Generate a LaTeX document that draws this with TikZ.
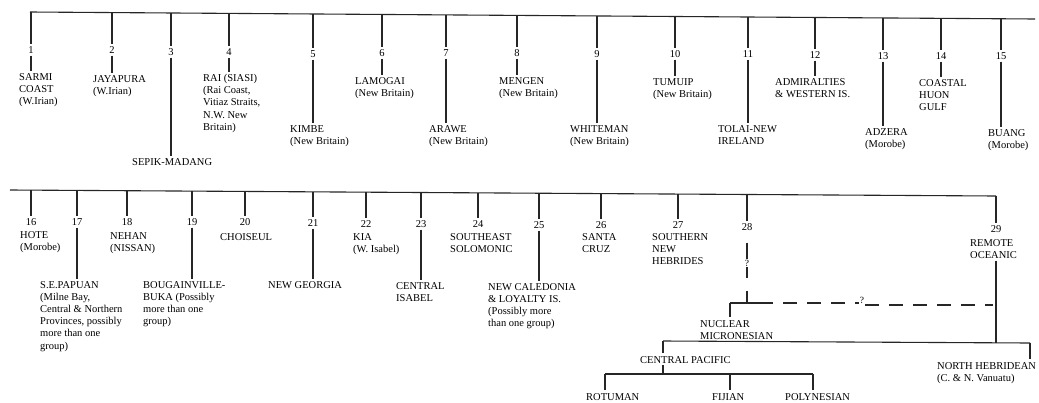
\documentclass[tikz,border=0pt]{standalone}
\usepackage{fontspec}
\setmainfont{Liberation Serif}
\newcommand\lfs{\fontsize{10.5}{12.2}\selectfont}
\tikzset{
  ln/.style={line width=1.1pt, draw=black!85},
  num/.style={inner sep=2pt, font=\lfs},
  lab/.style={anchor=north west, inner sep=0pt, align=left, font=\lfs},
  qm/.style={inner sep=1pt, font=\fontsize{9.5}{10}\selectfont},
  dsh/.style={ln, dash pattern=on 14pt off 10pt},
}
% #1 id, #2 x, #3 y on bar, #4 number y, #5 label x, #6 label y, #7 text
\newcommand\leaf[7]{%
  \coordinate (t#1) at (#2,#3);
  \node[num] (n#1) at (#2,#4) {#1};
  \node[lab] (l#1) at (#5,#6) {#7};
  \draw[ln] (t#1) -- (n#1.north);
  \draw[ln,shorten >=2.5pt] (n#1.south) -- (n#1.south |- l#1.north);
}
\newcommand\leafn[7]{%
  \coordinate (t#1) at (#2,#3);
  \node[num] (n#1) at (#2,#4) {#1};
  \node[lab] (l#1) at (#5,#6) {#7};
  \draw[ln] (t#1) -- (n#1.north);
}
\begin{document}
\begin{tikzpicture}[x=1pt,y=-1pt]
\useasboundingbox (0,0) rectangle (1039,402);

% ---------- upper row ----------
\coordinate (barAL) at (30,12);
\coordinate (barAR) at (1035,19);
\draw[ln] (barAL) -- (barAR);

\leaf{1}{31}{12.0}{50}{19}{73}{SARMI\\COAST\\(W.Irian)}
\leaf{2}{112}{12.6}{50}{93}{75}{JAYAPURA\\(W.Irian)}
\leaf{3}{171}{13.0}{52}{132}{158}{SEPIK-MADANG}
\leaf{4}{229}{13.4}{52}{203}{74}{RAI (SIASI)\\(Rai Coast,\\Vitiaz Straits,\\N.W. New\\Britain)}
\leaf{5}{313}{14.0}{54}{290}{125}{KIMBE\\(New Britain)}
\leaf{6}{382}{14.5}{53}{355}{77}{LAMOGAI\\(New Britain)}
\leaf{7}{446}{14.9}{53}{429}{125}{ARAWE\\(New Britain)}
\leaf{8}{517}{15.4}{53}{499}{77}{MENGEN\\(New Britain)}
\leaf{9}{597}{16.0}{54}{570}{125}{WHITEMAN\\(New Britain)}
\leaf{10}{675}{16.5}{54}{653}{78}{TUMUIP\\(New Britain)}
\leaf{11}{748}{17.0}{54}{718}{125}{TOLAI-NEW\\IRELAND}
\leaf{12}{815}{17.5}{55}{775}{78}{ADMIRALTIES\\\& WESTERN IS.}
\leaf{13}{883}{17.9}{56}{865}{128}{ADZERA\\(Morobe)}
\leaf{14}{941}{18.3}{56}{919}{79}{COASTAL\\HUON\\GULF}
\leaf{15}{1001}{18.8}{56}{988}{129}{BUANG\\(Morobe)}

% ---------- lower row ----------
\coordinate (barBL) at (10,190);
\coordinate (barBR) at (996,196);
\draw[ln] (barBL) -- (barBR);

\leafn{16}{31}{190.1}{222}{20}{231}{HOTE\\(Morobe)}
\leaf{17}{77}{190.4}{222}{40}{281}{S.E.PAPUAN\\(Milne Bay,\\Central \& Northern\\Provinces, possibly\\more than one\\group)}
\leafn{18}{127}{190.7}{222}{110}{232}{NEHAN\\(NISSAN)}
\leaf{19}{192}{191.1}{222}{143}{281}{BOUGAINVILLE-\\BUKA (Possibly\\more than one\\group)}
\leafn{20}{245}{191.4}{222}{220}{233}{CHOISEUL}
\leaf{21}{313}{191.8}{223}{268}{281}{NEW GEORGIA}
\leafn{22}{366}{192.1}{224}{353}{233}{KIA\\(W. Isabel)}
\leaf{23}{421}{192.5}{224}{396}{282}{CENTRAL\\ISABEL}
\leafn{24}{478}{192.8}{224}{450}{233}{SOUTHEAST\\SOLOMONIC}
\leaf{25}{539}{193.2}{225}{488}{283}{NEW CALEDONIA\\\& LOYALTY IS.\\(Possibly more\\than one group)}
\leafn{26}{601}{193.5}{225}{582}{233}{SANTA\\CRUZ}
\leafn{27}{678}{194.0}{225}{652}{233}{SOUTHERN\\NEW\\HEBRIDES}

% 28 with uncertain link
\coordinate (t28) at (747,194.4);
\node[num] (n28) at (747,227) {28};
\draw[ln] (t28) -- (n28.north);
\node[qm] (q1) at (747,263) {?};
\coordinate (j28) at (747,303);
\coordinate (jNM) at (730,303);
\draw[ln,shorten <=10pt] (n28.south) -- (q1.north);
\draw[ln,dash pattern=on 11pt off 13pt] (q1.south) -- (j28);
\draw[ln] (jNM) -- (j28);
\node[qm] (q2) at (862,300) {?};
\coordinate (jQ) at (993,305);
\draw[ln,dash pattern=on 26pt off 10pt on 14pt off 10pt on 14pt off 10pt on 14pt off 10pt] (j28) -- (q2.west |- j28);
\draw[dsh] (q2.east |- jQ) -- (jQ);

% 29 remote oceanic
\coordinate (t29) at (996,196);
\node[num] (n29) at (996,229) {29};
\node[lab] (l29) at (970,239) {REMOTE\\OCEANIC};
\draw[ln] (t29) -- (n29.north);

% nuclear micronesian
\node[lab] (lNM) at (700,320) {NUCLEAR\\MICRONESIAN};
\draw[ln,shorten >=3pt] (jNM) -- (jNM |- lNM.north);

% lower branching bar
\coordinate (jCP) at (663,341);
\coordinate (jNHR) at (1030,343);
\coordinate (jNH) at (996,343);
\draw[ln] (jCP) -- (jNHR);
\draw[ln,shorten <=2pt] (l29.south -| jNH) -- (jNH);

\node[lab] (lNH) at (937,362) {NORTH HEBRIDEAN\\(C. \& N. Vanuatu)};
\draw[ln,shorten >=3pt] (jNHR) -- (jNHR |- lNH.north);

\node[lab] (lCP) at (640,356) {CENTRAL PACIFIC};
\draw[ln,shorten >=3pt] (jCP) -- (jCP |- lCP.north);
\coordinate (jCPb) at (663,374);
\draw[ln,shorten <=2pt] (jCP |- lCP.south) -- (jCPb);

\coordinate (jRo) at (605,374);
\coordinate (jFi) at (730,374);
\coordinate (jPo) at (813,374);
\draw[ln] (jRo) -- (jPo);
\node[lab] (lRo) at (586,393) {ROTUMAN};
\node[lab] (lFi) at (712,393) {FIJIAN};
\node[lab] (lPo) at (785,393) {POLYNESIAN};
\draw[ln,shorten >=3pt] (jRo) -- (jRo |- lRo.north);
\draw[ln,shorten >=3pt] (jFi) -- (jFi |- lFi.north);
\draw[ln,shorten >=3pt] (jPo) -- (jPo |- lPo.north);
\end{tikzpicture}
\end{document}
